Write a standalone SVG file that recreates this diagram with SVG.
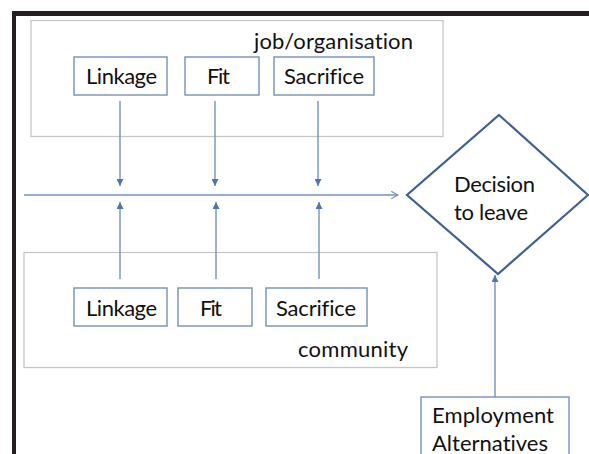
<svg xmlns="http://www.w3.org/2000/svg" width="589" height="454" viewBox="0 0 589 454">
<defs>
<style>
.cont{fill:none;stroke:#c3c7cc;stroke-width:1.3}
.box{fill:#fff;stroke:#7d98bf;stroke-width:1.5}
.conn{fill:none;stroke:#7193c0;stroke-width:1.4}
.dia{fill:#fff;stroke:#3f6190;stroke-width:2.2}
text{font-family:Lato,"Liberation Sans",sans-serif;font-size:22px;fill:#111;font-variant-ligatures:none;font-feature-settings:"liga" 0}
</style>
<marker id="tri" viewBox="0 0 10 10" refX="10" refY="5" markerWidth="5" markerHeight="5" orient="auto" markerUnits="strokeWidth">
<path d="M0,0 L10,5 L0,10 z" fill="#4f78ad"/>
</marker>
<marker id="open" viewBox="0 0 10 10" refX="9" refY="5" markerWidth="6" markerHeight="7" orient="auto" markerUnits="strokeWidth">
<path d="M1,0.5 L9,5 L1,9.5" fill="none" stroke="#7193c0" stroke-width="1.3"/>
</marker>
</defs>
<rect width="589" height="454" fill="#fff"/>
<g id="frame">
<rect x="12" y="11" width="577" height="5" fill="#231f20"/>
<rect x="12" y="11" width="4" height="443" fill="#231f20"/>
</g>
<g id="job-organisation">
<rect class="cont" x="31" y="20.5" width="412" height="116"/>
<text x="254" y="49" textLength="159">job/organisation</text>
</g>
<g id="community">
<rect class="cont" x="24" y="252.5" width="413" height="115"/>
<text x="298" y="357" textLength="110">community</text>
</g>
<g id="connectors">
<line class="conn" x1="120" y1="101" x2="120" y2="186" marker-end="url(#tri)"/>
<line class="conn" x1="215" y1="101" x2="215" y2="186" marker-end="url(#tri)"/>
<line class="conn" x1="318" y1="101" x2="318" y2="186" marker-end="url(#tri)"/>
<line class="conn" x1="120" y1="279" x2="120" y2="202" marker-end="url(#tri)"/>
<line class="conn" x1="216" y1="279" x2="216" y2="202" marker-end="url(#tri)"/>
<line class="conn" x1="319" y1="279" x2="319" y2="202" marker-end="url(#tri)"/>
<line class="conn" x1="24" y1="195" x2="398" y2="195" marker-end="url(#open)"/>
<line class="conn" x1="495" y1="397" x2="495" y2="275" marker-end="url(#tri)"/>
</g>
<g id="job-linkage">
<rect class="box" x="74" y="57" width="93" height="38"/>
<text x="86" y="84" textLength="71">Linkage</text>
</g>
<g id="job-fit">
<rect class="box" x="185" y="57" width="74" height="38"/>
<text x="207" y="84" textLength="23">Fit</text>
</g>
<g id="job-sacrifice">
<rect class="box" x="274" y="57" width="100" height="38"/>
<text x="284" y="84" textLength="80">Sacrifice</text>
</g>
<g id="com-linkage">
<rect class="box" x="74" y="288" width="93" height="38"/>
<text x="86" y="316" textLength="71">Linkage</text>
</g>
<g id="com-fit">
<rect class="box" x="178" y="288" width="74" height="38"/>
<text x="200" y="316" textLength="22">Fit</text>
</g>
<g id="com-sacrifice">
<rect class="box" x="266" y="288" width="101" height="38"/>
<text x="276" y="316" textLength="80">Sacrifice</text>
</g>
<g id="decision">
<path class="dia" d="M499,115 L588,195 L498,274 L407,195 Z"/>
<text x="454" y="192" textLength="81">Decision</text>
<text x="454" y="220" textLength="74">to leave</text>
</g>
<g id="employment">
<rect class="box" x="421" y="397" width="148" height="62"/>
<text x="432" y="423" textLength="122">Employment</text>
<text x="432" y="451" textLength="116">Alternatives</text>
</g>
</svg>
